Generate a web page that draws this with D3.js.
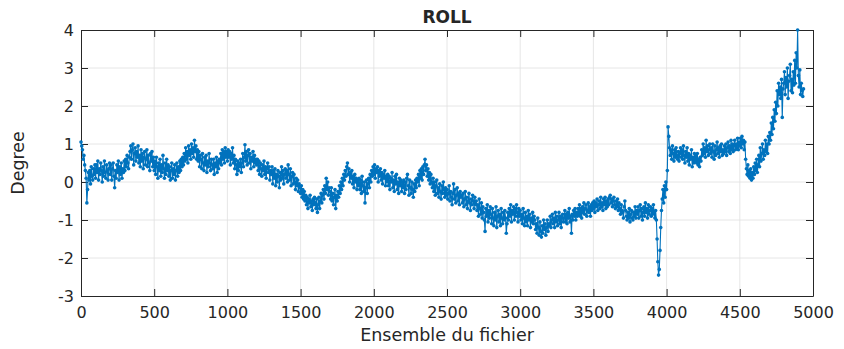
<!DOCTYPE html>
<html>
<head>
<meta charset="utf-8">
<script src="https://cdn.jsdelivr.net/npm/d3@7"></script>
<style>
  html, body { margin: 0; padding: 0; background: #fff; }
  svg text { font-family: "DejaVu Sans", sans-serif; fill: #262626; }
</style>
</head>
<body>
<svg id="chart" width="844" height="349"></svg>
<script>
// Roll angle (degrees), one reading every 5 samples of the file.
const sampleStep = 5;
const roll = [
  // 0 - 995
  1.05, 0.95, 0.85, 0.6, 0.7, 0.45, 0.3, 0.1, -0.55, -0.2, 0.25, 0.05, 0.3, -0.05, 0.4, 0.15, 0.05, 0.35, 0.2, 0.45,
  0.1, 0.45, 0.25, 0.55, 0.05, 0.35, 0.2, 0.5, 0.3, 0.0, 0.4, 0.15, 0.55, 0.25, 0.1, 0.45, 0.3, 0.05, 0.35, 0.5,
  0.2, 0.45, 0.05, 0.35, 0.5, 0.15, -0.15, 0.3, 0.1, 0.45, 0.25, 0.55, 0.05, 0.4, 0.2, 0.5, 0.1, 0.35, 0.25, 0.55,
  0.3, 0.6, 0.4, 0.7, 0.5, 0.35, 0.65, 0.8, 0.95, 0.6, 0.85, 1.0, 0.45, 0.75, 0.9, 0.55, 0.8, 0.65, 0.95, 0.5,
  0.7, 0.4, 0.85, 0.55, 0.75, 0.35, 0.65, 0.8, 0.45, 0.6, 0.85, 0.4, 0.7, 0.5, 0.3, 0.75, 0.55, 0.8, 0.4, 0.65,
  0.3, 0.55, 0.2, 0.65, 0.4, 0.1, 0.5, 0.3, 0.6, 0.15, 0.45, 0.25, 0.7, 0.35, 0.1, 0.5, 0.2, 0.6, 0.3, 0.45,
  0.15, 0.4, 0.05, 0.3, 0.5, 0.1, 0.35, 0.2, 0.45, 0.05, 0.3, 0.5, 0.15, 0.4, 0.25, 0.55, 0.3, 0.6, 0.4, 0.65,
  0.45, 0.75, 0.55, 0.9, 0.6, 0.8, 0.5, 0.95, 0.7, 0.85, 0.6, 1.0, 0.75, 0.9, 0.65, 1.1, 0.8, 0.95, 0.6, 0.85,
  0.55, 0.8, 0.4, 0.7, 0.6, 0.35, 0.75, 0.5, 0.3, 0.65, 0.45, 0.7, 0.25, 0.55, 0.4, 0.75, 0.5, 0.3, 0.6, 0.45,
  0.35, 0.6, 0.2, 0.5, 0.4, 0.65, 0.25, 0.55, 0.35, 0.6, 0.5, 0.75, 0.45, 0.85, 0.6, 0.8, 0.5, 0.9, 0.65, 0.8,
  // 1000 - 1995
  0.55, 0.85, 0.65, 0.8, 0.45, 0.75, 0.6, 0.9, 0.5, 0.7, 0.35, 0.6, 0.45, 0.2, 0.55, 0.3, 0.5, 0.4, 0.6, 0.25,
  0.5, 0.75, 0.4, 0.65, 0.98, 0.55, 0.8, 0.45, 0.7, 0.85, 0.5, 0.75, 0.35, 0.65, 0.55, 0.8, 0.4, 0.7, 0.5, 0.6,
  0.45, 0.6, 0.3, 0.55, 0.2, 0.5, 0.35, 0.15, 0.45, 0.3, 0.55, 0.2, 0.4, 0.1, 0.35, 0.5, 0.25, 0.4, 0.05, 0.3,
  0.2, 0.4, -0.05, 0.3, 0.1, 0.35, -0.1, 0.2, 0.0, 0.3, 0.15, -0.15, 0.25, 0.05, 0.4, 0.1, 0.3, -0.05, 0.2, 0.35,
  0.1, 0.3, 0.0, 0.45, 0.2, 0.05, 0.35, -0.1, 0.15, 0.25, -0.05, 0.2, 0.0, -0.2, 0.1, -0.1, 0.05, -0.25, -0.05, -0.15,
  -0.3, -0.1, -0.4, -0.2, -0.45, -0.25, -0.5, -0.35, -0.6, -0.4, -0.7, -0.45, -0.55, -0.35, -0.65, -0.5, -0.75, -0.45, -0.6, -0.4,
  -0.55, -0.7, -0.45, -0.8, -0.6, -0.4, -0.7, -0.5, -0.3, -0.55, -0.35, -0.2, -0.45, -0.1, -0.3, 0.1, -0.2, 0.0, -0.35, -0.15,
  -0.25, -0.45, -0.15, -0.5, -0.3, -0.6, -0.4, -0.2, -0.7, -0.35, -0.5, -0.25, -0.4, -0.1, -0.3, 0.0, -0.2, 0.1, -0.1, 0.2,
  0.05, 0.3, 0.15, 0.4, 0.5, 0.2, 0.35, 0.0, 0.25, 0.1, 0.3, -0.05, 0.15, -0.15, 0.2, 0.0, 0.1, -0.2, 0.05, -0.1,
  0.1, -0.2, 0.05, -0.3, 0.15, -0.1, -0.25, 0.0, -0.55, -0.15, 0.05, -0.3, -0.05, 0.1, -0.15, 0.2, 0.0, 0.3, 0.15, 0.4,
  // 2000 - 2995
  0.2, 0.45, 0.1, 0.35, 0.25, 0.4, 0.0, 0.3, 0.15, 0.35, 0.05, 0.25, -0.05, 0.2, 0.1, 0.3, -0.1, 0.15, 0.0, 0.2,
  -0.1, 0.15, -0.2, 0.1, 0.0, 0.25, -0.15, 0.05, -0.25, 0.15, -0.05, 0.2, -0.2, 0.0, -0.3, 0.1, -0.1, 0.05, -0.25, 0.0,
  -0.15, 0.05, -0.3, 0.0, -0.2, 0.1, 0.2, -0.1, -0.35, 0.05, -0.15, -0.3, 0.0, -0.2, -0.4, -0.05, -0.25, 0.05, -0.15, 0.1,
  0.0, 0.2, -0.1, 0.3, 0.1, 0.35, 0.05, 0.4, 0.2, 0.45, 0.6, 0.3, 0.45, 0.15, 0.35, 0.05, 0.25, -0.05, 0.2, 0.0,
  -0.15, 0.1, -0.25, 0.0, -0.35, -0.1, 0.05, -0.3, -0.15, -0.4, -0.05, -0.25, -0.45, -0.1, -0.3, 0.0, -0.2, -0.4, -0.15, -0.35,
  -0.2, -0.45, -0.3, -0.1, -0.5, -0.25, -0.4, -0.6, -0.3, -0.05, -0.45, -0.2, -0.55, -0.35, -0.15, -0.5, -0.3, -0.6, -0.25, -0.4,
  -0.35, -0.55, -0.3, -0.65, -0.45, -0.25, -0.6, -0.4, -0.7, -0.5, -0.3, -0.55, -0.75, -0.45, -0.6, -0.35, -0.5, -0.7, -0.4, -0.6,
  -0.5, -0.75, -0.6, -0.9, -0.45, -0.7, -0.85, -0.55, -0.95, -0.65, -0.8, -1.0, -1.3, -0.7, -0.9, -0.6, -1.05, -0.75, -0.95, -0.65,
  -0.85, -1.1, -0.7, -0.95, -1.15, -0.8, -1.0, -0.65, -1.2, -0.9, -0.75, -1.05, -0.85, -1.15, -0.7, -0.95, -1.1, -0.8, -1.0, -0.75,
  -0.95, -1.35, -1.1, -0.8, -1.0, -0.7, -0.9, -0.6, -1.05, -0.75, -0.85, -0.65, -1.0, -0.7, -0.9, -0.6, -0.8, -1.05, -0.7, -0.9,
  // 3000 - 3995
  -0.75, -1.0, -0.85, -1.1, -0.7, -0.95, -1.15, -0.8, -1.05, -0.9, -1.15, -0.75, -1.0, -0.85, -1.2, -0.95, -1.05, -0.8, -1.1, -0.9,
  -1.0, -1.25, -1.1, -1.35, -0.95, -1.2, -1.4, -1.05, -1.3, -1.45, -1.15, -1.35, -1.0, -1.25, -1.1, -1.4, -1.2, -1.0, -1.3, -1.1,
  -1.15, -0.9, -1.2, -1.0, -0.85, -1.1, -0.95, -1.2, -0.8, -1.05, -0.9, -1.15, -1.0, -0.8, -1.1, -0.9, -1.2, -0.95, -0.85, -1.05,
  -0.95, -0.75, -1.05, -0.85, -1.1, -0.8, -0.95, -0.7, -1.05, -0.9, -1.35, -0.85, -1.0, -0.75, -0.9, -0.7, -1.0, -0.8, -0.9, -0.7,
  -0.85, -0.6, -0.9, -0.7, -0.95, -0.65, -0.8, -0.55, -0.85, -0.7, -0.6, -0.9, -0.75, -0.55, -0.8, -0.65, -0.9, -0.6, -0.75, -0.55,
  -0.7, -0.5, -0.8, -0.55, -0.65, -0.45, -0.75, -0.6, -0.5, -0.7, -0.4, -0.65, -0.55, -0.75, -0.45, -0.6, -0.4, -0.7, -0.5, -0.65,
  -0.45, -0.6, -0.4, -0.35, -0.55, -0.45, -0.65, -0.5, -0.4, -0.6, -0.7, -0.5, -0.65, -0.45, -0.75, -0.55, -0.7, -0.85, -0.6, -0.75,
  -0.8, -0.95, -0.65, -0.5, -0.75, -0.9, -1.0, -0.8, -0.95, -0.7, -1.05, -0.85, -0.75, -0.95, -1.0, -0.8, -0.9, -0.65, -0.95, -0.75,
  -0.85, -0.65, -0.95, -0.75, -0.6, -0.9, -0.7, -1.0, -0.8, -0.65, -0.9, -0.55, -0.8, -0.7, -0.95, -0.6, -0.85, -0.75, -0.65, -0.9,
  -0.7, -0.85, -0.6, -0.8, -0.95, -0.75, -1.0, -1.5, -2.1, -2.45, -2.3, -1.8, -1.2, -0.75, -0.45, -0.2, -0.55, -0.1, -0.4, 0.0,
  // 4000 - 4935
  -0.2, 0.3, 1.45, 1.2, 0.9, 0.7, 0.85, 0.6, 0.95, 0.75, 0.55, 0.85, 0.65, 0.9, 0.7, 0.6, 0.8, 0.55, 0.75, 0.9,
  0.65, 0.85, 0.6, 0.95, 0.7, 0.5, 0.8, 0.65, 0.9, 0.55, 0.75, 0.45, 0.7, 0.6, 0.85, 0.4, 0.65, 0.5, 0.75, 0.55,
  0.7, 0.5, 0.75, 0.45, 0.6, 0.4, 0.65, 0.55, 0.85, 0.7, 1.0, 0.75, 0.9, 0.65, 1.1, 0.8, 0.95, 0.7, 0.85, 1.0,
  0.75, 0.9, 0.65, 1.0, 0.8, 0.6, 0.95, 0.7, 0.85, 1.05, 0.75, 0.9, 0.65, 0.95, 0.8, 1.0, 0.7, 0.85, 0.75, 0.95,
  0.8, 1.0, 0.7, 0.9, 1.05, 0.8, 0.95, 0.75, 1.1, 0.85, 1.0, 0.8, 0.95, 1.1, 0.85, 1.0, 0.9, 1.15, 0.85, 1.05,
  0.95, 1.15, 0.9, 1.2, 1.0, 1.1, 0.85, 1.05, 0.6, 0.35, 0.2, 0.45, 0.15, 0.3, 0.1, 0.35, 0.05, 0.25, 0.1, 0.4,
  0.2, 0.5, 0.3, 0.6, 0.25, 0.45, 0.7, 0.4, 0.9, 0.55, 0.75, 1.0, 0.6, 0.85, 0.7, 1.1, 0.8, 1.0, 0.75, 1.2,
  1.0, 1.3, 1.1, 1.55, 1.25, 1.7, 1.4, 1.9, 1.6, 2.1, 1.8, 2.4, 2.0, 2.6, 2.3, 2.5, 2.2, 2.7, 1.7, 2.45,
  2.6, 2.9, 2.3, 2.75, 2.5, 3.0, 2.2, 2.65, 2.8, 3.1, 2.4, 2.7, 2.35, 2.9, 2.55, 3.2, 2.6, 3.4, 3.0, 4.0,
  2.8, 2.5, 2.95, 2.3, 2.6, 2.4, 2.25, 2.45
];

const xTicks = [0, 500, 1000, 1500, 2000, 2500, 3000, 3500, 4000, 4500, 5000];
const yTicks = [-3, -2, -1, 0, 1, 2, 3, 4];
const titleText = "ROLL";
const xLabelText = "Ensemble du fichier";
const yLabelText = "Degree";

const svg = d3.select("#chart");
const margin = { left: 81, right: 31, top: 30, bottom: 53 };
const W = 844, H = 349;
const iw = W - margin.left - margin.right;
const ih = H - margin.top - margin.bottom;

const x = d3.scaleLinear().domain([0, 5000]).range([0, iw]);
const y = d3.scaleLinear().domain([-3, 4]).range([ih, 0]);

const axisColor = "#262626";
const lineColor = "#0072BD";
const g = svg.append("g").attr("transform", `translate(${margin.left},${margin.top})`);

// grid
g.append("g").selectAll("line").data(xTicks.slice(1, -1)).join("line")
  .attr("x1", d => x(d)).attr("x2", d => x(d)).attr("y1", 0).attr("y2", ih)
  .attr("stroke", "#dfdfdf").attr("stroke-width", 0.8);
g.append("g").selectAll("line").data(yTicks.slice(1, -1)).join("line")
  .attr("x1", 0).attr("x2", iw).attr("y1", d => y(d)).attr("y2", d => y(d))
  .attr("stroke", "#dfdfdf").attr("stroke-width", 0.8);

// axes with inward ticks, mirrored on the opposite sides
const tickLen = 7;
const fmt = d => String(d);
const xBottom = g.append("g").attr("transform", `translate(0,${ih})`)
  .call(d3.axisBottom(x).tickValues(xTicks).tickFormat(fmt).tickSizeInner(-tickLen).tickSizeOuter(0).tickPadding(11));
const xTop = g.append("g")
  .call(d3.axisTop(x).tickValues(xTicks).tickFormat("").tickSizeInner(-tickLen).tickSizeOuter(0));
const yLeft = g.append("g")
  .call(d3.axisLeft(y).tickValues(yTicks).tickFormat(fmt).tickSizeInner(-tickLen).tickSizeOuter(0).tickPadding(7));
const yRight = g.append("g").attr("transform", `translate(${iw},0)`)
  .call(d3.axisRight(y).tickValues(yTicks).tickFormat("").tickSizeInner(-tickLen).tickSizeOuter(0));

[xBottom, xTop, yLeft, yRight].forEach(a => {
  a.select(".domain").attr("stroke", axisColor).attr("stroke-width", 1);
  a.selectAll(".tick line").attr("stroke", axisColor).attr("stroke-width", 1);
  a.selectAll(".tick text").attr("fill", axisColor).style("font-size", "16px")
    .style("font-family", "'DejaVu Sans', sans-serif");
});

// series: line with small dot markers
const pts = roll.map((v, i) => [i * sampleStep, v]);
const line = d3.line().x(d => x(d[0])).y(d => y(d[1]));
g.append("path").datum(pts)
  .attr("d", line).attr("fill", "none")
  .attr("stroke", lineColor).attr("stroke-width", 1.1);
g.append("g").selectAll("circle").data(pts).join("circle")
  .attr("cx", d => x(d[0])).attr("cy", d => y(d[1])).attr("r", 1.8)
  .attr("fill", lineColor);

// labels
svg.append("text").attr("x", margin.left + iw / 2).attr("y", 23)
  .attr("text-anchor", "middle").style("font-size", "17px").style("font-weight", "bold")
  .text(titleText);
svg.append("text").attr("x", margin.left + iw / 2).attr("y", 341)
  .attr("text-anchor", "middle").style("font-size", "17.5px")
  .text(xLabelText);
svg.append("text")
  .attr("transform", `translate(24,${margin.top + ih / 2}) rotate(-90)`)
  .attr("text-anchor", "middle").style("font-size", "17.5px")
  .text(yLabelText);
</script>
</body>
</html>
